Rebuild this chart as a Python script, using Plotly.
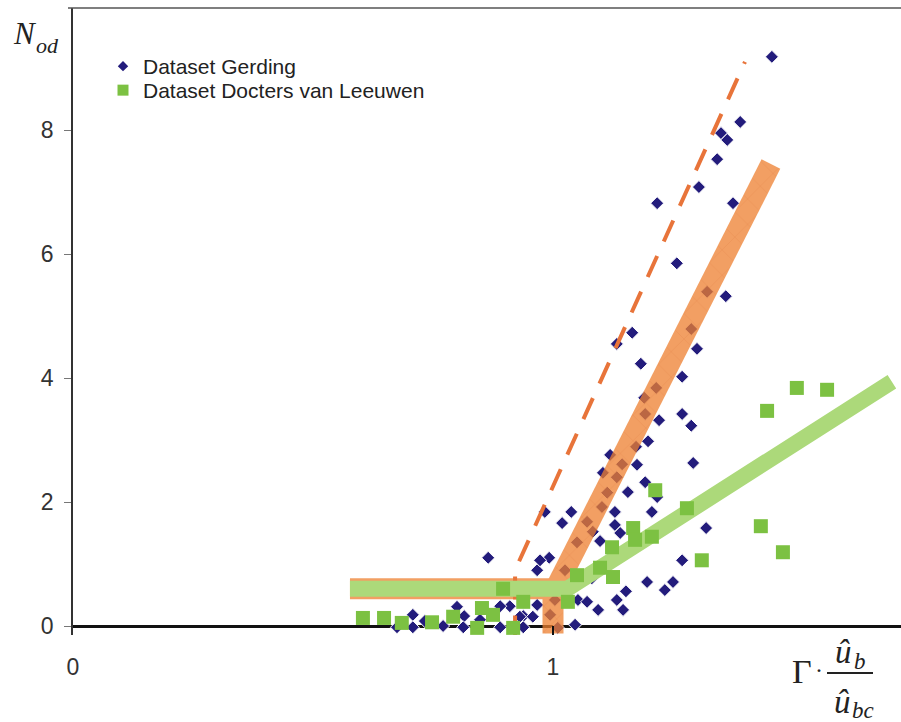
import math
import plotly.graph_objects as go

# Gerding data set: relative load (Gamma * u_b / u_bc) and damage number N_od
gerding_x = [1.456, 1.390, 1.350, 1.363, 1.342, 1.304, 1.217, 1.375, 1.258, 1.321,
             1.360, 1.288, 1.165, 1.300, 1.133, 1.183, 1.269, 1.215, 1.190, 1.192,
             1.221, 1.269, 1.288, 1.198, 1.173, 1.119, 1.144, 1.175, 1.292, 1.133,
             1.104, 1.192, 1.156, 1.113, 1.102, 1.217, 1.206, 1.038, 1.019, 0.983,
             1.129, 1.129, 1.140, 1.071, 1.083, 1.098, 1.050, 1.319, 0.865, 0.992,
             0.967, 1.269, 1.196, 1.250, 1.233, 1.081, 1.152, 1.133, 1.146, 1.094,
             1.052, 1.046, 0.967, 0.910, 0.938, 0.890, 0.708, 0.708, 0.675, 0.733,
             0.771, 0.800, 0.815, 0.813, 0.848, 0.890, 0.931, 0.938, 0.958, 1.004,
             0.994, 1.010, 0.983, 1.025, 0.973, 1.071]
gerding_n = [9.18, 8.13, 7.95, 7.84, 7.53, 7.08, 6.82, 6.82, 5.85, 5.39,
             5.32, 4.79, 4.73, 4.47, 4.55, 4.23, 4.02, 3.84, 3.68, 3.42,
             3.32, 3.42, 3.23, 2.98, 2.89, 2.76, 2.61, 2.60, 2.63, 2.40,
             2.47, 2.32, 2.16, 2.15, 1.92, 2.08, 1.84, 1.84, 1.66, 1.84,
             1.84, 1.63, 1.50, 1.68, 1.52, 1.37, 1.35, 1.58, 1.10, 1.10,
             0.90, 1.06, 0.71, 0.71, 0.58, 0.77, 0.56, 0.42, 0.26, 0.26,
             0.42, 0.02, 0.34, 0.32, 0.16, 0.32, 0.18, -0.02, -0.02, 0.08,
             0.00, 0.31, 0.16, -0.02, 0.10, -0.02, 0.15, -0.02, 0.15, 0.42,
             0.18, -0.03, 0.58, 0.90, 1.06, 0.39]

# Docters van Leeuwen data set
dvl_x = [0.604, 0.648, 0.685, 0.748, 0.792, 0.842, 0.852, 0.875, 0.896, 0.917,
         0.938, 1.031, 1.050, 1.098, 1.125, 1.123, 1.167, 1.171, 1.206, 1.213,
         1.279, 1.310, 1.446, 1.508, 1.571, 1.433, 1.479]
dvl_n = [0.13, 0.13, 0.05, 0.06, 0.15, -0.03, 0.29, 0.18, 0.60, -0.03,
         0.39, 0.39, 0.82, 0.94, 0.79, 1.27, 1.58, 1.39, 1.44, 2.19,
         1.90, 1.06, 3.47, 3.84, 3.81, 1.61, 1.19]

# Design curves (None separates the pieces of the wide orange band)
band_x = [0.577, 1.0, 1.0, None, 0.995, 1.454]
band_n = [0.6, 0.6, -0.12, None, 0.45, 7.45]
dash_x = [0.921, 0.921, 1.40]
dash_n = [-0.2, 0.9, 9.1]
green_x = [0.577, 1.03, 1.706]
green_n = [0.6, 0.6, 3.94]

x_ticks = [0, 1]
x_tick_text = ["0", "1"]
y_ticks = [0, 2, 4, 6, 8]

NAVY = "#231c7c"
GREEN = "#7cc142"
GREEN_BAND = "#acd97a"
ORANGE_BAND = "rgb(238,128,48)"
ORANGE_DASH = "#e8743a"
TEXT = "#222222"

W, H = 901, 722
ML, MR, MT, MB = 73, 0, 8, 87
PW, PH = W - ML - MR, H - MT - MB
SX, SY = 480, 62          # pixels per data unit on x and y
BAND_W = 21


def px(x):
    return (x - ML) / PW


def py(y):
    return (H - MB - y) / PH


def strip(xa, na, xb, nb, width):
    """Outline of a straight stroke of the given pixel width, in data units."""
    dx, dy = (xb - xa) * SX, (nb - na) * SY
    length = math.hypot(dx, dy)
    ox, oy = -dy / length * width / 2 / SX, dx / length * width / 2 / SY
    xs = [xa + ox, xb + ox, xb - ox, xa - ox, xa + ox]
    ns = [na + oy, nb + oy, nb - oy, na - oy, na + oy]
    return xs, ns


fig = go.Figure()

fig.add_trace(go.Scatter(
    x=gerding_x, y=gerding_n, mode="markers", showlegend=False,
    marker=dict(symbol="diamond", size=10, color=NAVY,
                line=dict(color="white", width=1)),
))
fig.add_trace(go.Scatter(
    x=band_x, y=band_n, mode="lines", showlegend=False, opacity=0.75,
    connectgaps=False, line=dict(color=ORANGE_BAND, width=BAND_W),
))

# faint cross-hatching on the sloping and vertical parts of the band
hatch_x, hatch_n = [], []
for seg in [(band_x[4], band_n[4], band_x[5], band_n[5]),
            (band_x[2], band_n[2], band_x[1], band_n[1])]:
    sx_, sn_ = strip(*seg, BAND_W - 1)
    hatch_x += sx_ + [None]
    hatch_n += sn_ + [None]
fig.add_trace(go.Scatter(
    x=hatch_x, y=hatch_n, mode="none", fill="toself", showlegend=False,
    fillcolor="rgba(0,0,0,0)", hoverinfo="skip",
    fillpattern=dict(shape="x", size=18, solidity=0.06,
                     fgcolor="rgba(205,95,35,0.45)", bgcolor="rgba(0,0,0,0)"),
))

fig.add_trace(go.Scatter(
    x=dash_x, y=dash_n, mode="lines", showlegend=False,
    line=dict(color=ORANGE_DASH, width=4, dash="23px,16px"),
))
fig.add_trace(go.Scatter(
    x=green_x, y=green_n, mode="lines", showlegend=False,
    line=dict(color=GREEN_BAND, width=16),
))
fig.add_trace(go.Scatter(
    x=dvl_x, y=dvl_n, mode="markers", showlegend=False,
    marker=dict(symbol="square", size=14, color=GREEN),
))

# legend entries, one legend box each
fig.add_trace(go.Scatter(
    x=[None], y=[None], mode="markers", name="Dataset Gerding", legend="legend",
    marker=dict(symbol="diamond", size=8, color=NAVY),
))
fig.add_trace(go.Scatter(
    x=[None], y=[None], mode="markers", name="Dataset Docters van Leeuwen",
    legend="legend2", marker=dict(symbol="square", size=11, color=GREEN),
))

tick_font = dict(family="Liberation Sans", size=23, color="#333333")
legend_font = dict(family="Liberation Sans", size=21, color=TEXT)

fig.update_xaxes(
    range=[0, PW / SX], tickvals=x_ticks, ticktext=x_tick_text,
    ticks="inside", ticklen=9, tickwidth=1.5, tickcolor="#111111",
    ticklabelstandoff=16, tickfont=tick_font,
    showgrid=False, zeroline=False, showline=False,
)
fig.update_yaxes(
    range=[-0.145, -0.145 + PH / SY], tickvals=y_ticks,
    ticks="outside", ticklen=7, tickwidth=1, tickcolor="#777777",
    ticklabelstandoff=6, tickfont=tick_font,
    showgrid=False, showline=True, linecolor="#333333", linewidth=1.5,
    zeroline=True, zerolinecolor="#111111", zerolinewidth=3,
)

serif = "Liberation Serif"


def label(x, y, text, size, italic=True):
    fig.add_annotation(
        x=px(x), y=py(y), xref="paper", yref="paper", showarrow=False,
        xanchor="center", yanchor="middle",
        text=f"<i>{text}</i>" if italic else text,
        font=dict(family=serif, size=size, color=TEXT),
    )


# y-axis title N_od
label(25, 34, "N", 31)
label(47, 46, "od", 22)
# x-axis title Gamma * u_b / u_bc
label(802, 671, "Γ", 34, italic=False)
label(819, 670, "·", 24, italic=False)
label(843, 652, "û", 33)
label(860, 662, "b", 23)
label(842, 702, "û", 33)
label(863, 711, "bc", 23)

# fraction bar and top frame line
fig.add_shape(type="line", xref="paper", yref="paper",
              x0=px(827), x1=px(873), y0=py(673), y1=py(673),
              line=dict(color=TEXT, width=2))
fig.add_shape(type="line", xref="paper", yref="paper",
              x0=px(68), x1=1, y0=1, y1=1,
              line=dict(color="#555555", width=1.5))

fig.update_layout(
    width=W, height=H,
    margin=dict(l=ML, r=MR, t=MT, b=MB),
    paper_bgcolor="white", plot_bgcolor="white",
    legend=dict(x=px(103), y=py(46), xanchor="left", yanchor="top",
                font=legend_font, bgcolor="rgba(0,0,0,0)", itemwidth=30),
    legend2=dict(x=px(103), y=py(70), xanchor="left", yanchor="top",
                 font=legend_font, bgcolor="rgba(0,0,0,0)", itemwidth=30),
)

fig.write_html("out.html")
